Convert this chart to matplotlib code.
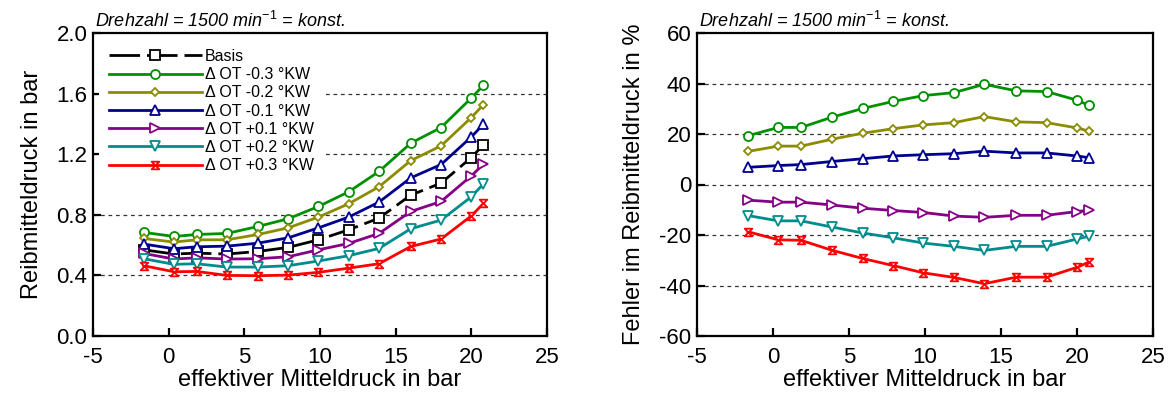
import numpy as np
import matplotlib as mpl
import matplotlib.pyplot as plt
from matplotlib.path import Path

mpl.rcParams.update({
    'font.family': 'sans-serif',
    'font.sans-serif': ['Liberation Sans', 'DejaVu Sans'],
    'mathtext.fontset': 'custom',
    'mathtext.rm': 'Liberation Sans',
    'mathtext.it': 'Liberation Sans:italic',
    'axes.unicode_minus': False,
    'figure.facecolor': 'white',
    'axes.facecolor': 'white',
    'axes.linewidth': 1.6,
})

# effektiver Mitteldruck in bar
PME = [-1.65, 0.35, 1.85, 3.85, 5.9, 7.9, 9.9, 11.9, 13.9, 16.0, 18.0, 20.0, 20.8]

# Reibmitteldruck in bar
FMEP_BASIS = [0.569, 0.541, 0.547, 0.541, 0.558, 0.585, 0.635, 0.701, 0.778, 0.930, 1.009, 1.178, 1.262]
FMEP_M03 = [0.684, 0.657, 0.670, 0.677, 0.723, 0.774, 0.855, 0.952, 1.086, 1.273, 1.376, 1.571, 1.655]
FMEP_M02 = [0.644, 0.620, 0.635, 0.635, 0.670, 0.714, 0.785, 0.873, 0.985, 1.158, 1.255, 1.442, 1.527]
FMEP_M01 = [0.607, 0.576, 0.589, 0.593, 0.613, 0.648, 0.714, 0.785, 0.884, 1.044, 1.132, 1.314, 1.398]
FMEP_P01 = [0.545, 0.508, 0.516, 0.508, 0.510, 0.523, 0.569, 0.611, 0.677, 0.822, 0.888, 1.057, 1.134]
FMEP_P02 = [0.510, 0.473, 0.477, 0.455, 0.455, 0.464, 0.495, 0.530, 0.578, 0.708, 0.765, 0.919, 1.004]
FMEP_P03 = [0.464, 0.424, 0.426, 0.400, 0.398, 0.402, 0.420, 0.448, 0.477, 0.591, 0.640, 0.793, 0.875]

# Fehler im Reibmitteldruck in %
ERR_M03 = [19.3, 22.6, 22.6, 26.6, 30.1, 32.9, 35.2, 36.4, 39.7, 37.1, 36.8, 33.4, 31.3]
ERR_M02 = [13.1, 15.2, 15.2, 17.9, 20.3, 22.1, 23.6, 24.5, 26.9, 24.8, 24.5, 22.4, 21.1]
ERR_M01 = [6.8, 7.5, 7.9, 9.1, 10.2, 11.3, 11.8, 12.2, 13.2, 12.5, 12.5, 11.3, 10.6]
ERR_P01 = [-6.2, -7.0, -7.0, -8.1, -9.4, -10.3, -11.1, -12.5, -13.0, -12.2, -12.2, -10.7, -10.2]
ERR_P02 = [-12.3, -14.4, -14.4, -16.8, -19.2, -21.1, -23.2, -24.5, -26.1, -24.5, -24.5, -21.6, -20.5]
ERR_P03 = [-18.7, -21.9, -22.1, -26.0, -29.3, -32.1, -35.0, -36.8, -39.3, -36.7, -36.7, -32.8, -30.7]

LABELS = ['Basis', 'Δ OT -0.3 °KW', 'Δ OT -0.2 °KW', 'Δ OT -0.1 °KW',
          'Δ OT +0.1 °KW', 'Δ OT +0.2 °KW', 'Δ OT +0.3 °KW']

# hourglass marker used for +0.3 °KW
HOURGLASS = Path([(-1, 1), (1, 1), (-1, -1), (1, -1), (-1, 1)],
                 [Path.MOVETO, Path.LINETO, Path.LINETO, Path.LINETO, Path.CLOSEPOLY])

STYLES = {
    'basis': dict(color='black', marker='s', ms=6.5, ls=(0, (11, 2.5))),
    'm03':   dict(color='#009000', marker='o', ms=6.5, ls='-'),
    'm02':   dict(color='#8c8c00', marker='D', ms=4.5, ls='-'),
    'm01':   dict(color='#000090', marker='^', ms=6.5, ls='-'),
    'p01':   dict(color='#860086', marker='>', ms=6.5, ls='-'),
    'p02':   dict(color='#008c8c', marker='v', ms=6.5, ls='-'),
    'p03':   dict(color='#ff0000', marker=HOURGLASS, ms=5.5, ls='-'),
}

FS_TICK = 16
FS_LABEL = 17
FS_TITLE = 13
FS_LEG = 11.5
TITLE = r'Drehzahl = 1500 min$^{\mathit{-1}}$ = konst.'


def style_axes(ax, ylim, yticks, yfmt):
    ax.set_xlim(-5, 25)
    ax.set_xticks(np.arange(-5, 26, 5))
    ax.set_ylim(*ylim)
    ax.set_yticks(yticks)
    ax.set_yticklabels([yfmt.format(v) for v in yticks])
    ax.tick_params(direction='in', length=6, width=1.6, labelsize=FS_TICK,
                   top=False, right=False)
    ax.tick_params(axis='x', pad=8)
    ax.tick_params(axis='y', pad=4)
    ax.set_xlabel('effektiver Mitteldruck in bar', fontsize=FS_LABEL, labelpad=1)
    ax.text(0.005, 1.008, TITLE, transform=ax.transAxes, ha='left', va='bottom',
            fontsize=FS_TITLE, fontstyle='italic')


def plot_line(ax, y, key, label=None):
    st = STYLES[key]
    ax.plot(PME, y, color=st['color'], lw=2.0, ls=st['ls'], marker=st['marker'],
            ms=st['ms'], mfc='white', mec=st['color'], mew=1.3, label=label,
            zorder=3)


fig = plt.figure(figsize=(11.68, 4.03), dpi=100)
ax1 = fig.add_axes([93 / 1168, 67 / 403, 454 / 1168, 303 / 403])
ax2 = fig.add_axes([697 / 1168, 67 / 403, 456 / 1168, 303 / 403])

# left: Reibmitteldruck
for g in [0.4, 0.8, 1.2, 1.6]:
    ax1.axhline(g, color='#333333', lw=0.9, ls=(0, (3, 3)), zorder=1)
series_left = [(FMEP_BASIS, 'basis'), (FMEP_M03, 'm03'), (FMEP_M02, 'm02'),
               (FMEP_M01, 'm01'), (FMEP_P01, 'p01'), (FMEP_P02, 'p02'),
               (FMEP_P03, 'p03')]
for (y, key), lbl in zip(series_left, LABELS):
    plot_line(ax1, y, key, lbl)
style_axes(ax1, (0, 2.0), np.arange(0, 2.01, 0.4), '{:.1f}')
ax1.set_ylabel('Reibmitteldruck in bar', fontsize=FS_LABEL, labelpad=10)
leg = ax1.legend(loc='upper left', bbox_to_anchor=(0.0, 1.0), fontsize=FS_LEG,
                 frameon=True, framealpha=1, edgecolor='none', fancybox=False,
                 handlelength=5.8, handletextpad=0.2, labelspacing=0.2,
                 borderpad=0.6, borderaxespad=0.4, numpoints=1)
leg.set_zorder(5)

# right: Fehler
for g in [-40, -20, 0, 20, 40]:
    ax2.axhline(g, color='#333333', lw=0.9, ls=(0, (3, 3)), zorder=1)
series_right = [(ERR_M03, 'm03'), (ERR_M02, 'm02'), (ERR_M01, 'm01'),
                (ERR_P01, 'p01'), (ERR_P02, 'p02'), (ERR_P03, 'p03')]
for y, key in series_right:
    plot_line(ax2, y, key)
style_axes(ax2, (-60, 60), np.arange(-60, 61, 20), '{:.0f}')
ax2.set_ylabel('Fehler im Reibmitteldruck in %', fontsize=FS_LABEL, labelpad=10)

fig.savefig('out.png', dpi=100)
